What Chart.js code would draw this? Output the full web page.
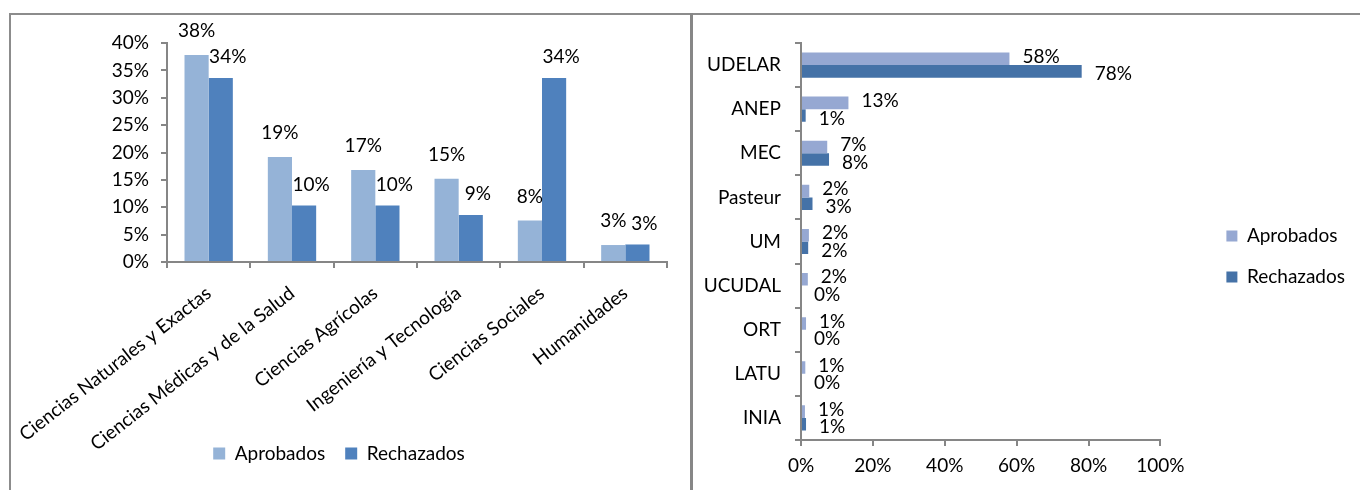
<!DOCTYPE html>
<html>

<head>
    <title>Aprobados y Rechazados</title>
    <meta charset="utf-8">
    <script src="https://cdn.jsdelivr.net/npm/chart.js"></script>
    <style>
        body { margin: 0; background: #fff; width: 1360px; height: 490px; overflow: hidden; position: relative; }
        .frame { position: absolute; left: 9px; top: 13px; width: 1360px; height: 490px; border-top: 2px solid #8c8c8c; border-left: 2px solid #8c8c8c; }
        .sep { position: absolute; left: 690px; top: 13px; width: 3px; height: 477px; background: #878787; }
        #left { position: absolute; left: 11px; top: 15px; }
        #right { position: absolute; left: 694px; top: 15px; }
    </style>
</head>

<body>
    <div class="frame"></div>
    <div class="sep"></div>
    <canvas id="left" width="678" height="475"></canvas>
    <canvas id="right" width="666" height="475"></canvas>

    <script>
        // datos por area
        const areas = ["Ciencias Naturales y Exactas", "Ciencias Médicas y de la Salud", "Ciencias Agrícolas",
            "Ingeniería y Tecnología", "Ciencias Sociales", "Humanidades"];
        const areasAprobados = [37.8, 19.2, 16.8, 15.2, 7.6, 3.1];
        const areasRechazados = [33.6, 10.3, 10.3, 8.6, 33.6, 3.2];
        const areasTicks = [0, 5, 10, 15, 20, 25, 30, 35, 40];

        // datos por institucion
        const instituciones = ["UDELAR", "ANEP", "MEC", "Pasteur", "UM", "UCUDAL", "ORT", "LATU", "INIA"];
        const instAprobados = [58.0, 13.2, 7.3, 2.3, 2.2, 1.9, 1.4, 1.2, 1.1];
        const instRechazados = [78.1, 1.3, 7.8, 3.2, 2.0, 0, 0, 0, 1.4];
        const instTicks = [0, 20, 40, 60, 80, 100];

        const AXIS = "#868686";

        Chart.defaults.font.family = "Lato";
        Chart.defaults.font.size = 19;
        Chart.defaults.color = "#000";

        const barLabels = {
            id: "barLabels",
            afterDatasetsDraw(chart, args, opts) {
                const ctx = chart.ctx;
                ctx.save();
                ctx.font = "19px Lato";
                ctx.fillStyle = "#000";
                ctx.textBaseline = "middle";
                ctx.textAlign = opts.align;
                chart.data.datasets.forEach((ds, i) => {
                    const off = opts.offsets[i];
                    chart.getDatasetMeta(i).data.forEach((bar, j) => {
                        ctx.fillText(Math.round(ds.data[j]) + "%", bar.x + off[0], bar.y + off[1]);
                    });
                });
                ctx.restore();
            }
        };

        const moveLegend = {
            id: "moveLegend",
            afterLayout(chart, args, opts) {
                const lg = chart.legend;
                if (!lg || !opts.dx && !opts.dy) return;
                lg.left += opts.dx || 0;
                lg.right += opts.dx || 0;
                lg.top += opts.dy || 0;
                lg.bottom += opts.dy || 0;
            }
        };

        let leftChart = new Chart(document.getElementById("left"), {
            type: "bar",
            data: {
                labels: areas,
                datasets: [{
                    label: "Aprobados",
                    data: areasAprobados,
                    backgroundColor: "#95b3d7"
                }, {
                    label: "Rechazados",
                    data: areasRechazados,
                    backgroundColor: "#4f81bd"
                }]
            },
            plugins: [barLabels],
            options: {
                responsive: false,
                animation: false,
                categoryPercentage: 0.58,
                barPercentage: 1,
                layout: { padding: { top: 28, right: 22, bottom: 17, left: 0 } },
                plugins: {
                    legend: { position: "bottom", labels: { boxWidth: 12, boxHeight: 12, padding: 20 } },
                    tooltip: { enabled: false },
                    barLabels: { align: "center", offsets: [[0, -24], [7, -21]] }
                },
                scales: {
                    x: {
                        grid: { drawOnChartArea: false, offset: true, tickLength: 6, color: AXIS, lineWidth: 2 },
                        border: { color: AXIS, width: 2 },
                        ticks: { minRotation: 38, maxRotation: 38, padding: 14, autoSkip: false },
                        afterFit(s) {
                            s.height = 162;
                            s.paddingLeft = 0;
                            s.paddingRight = 0;
                            // rotated labels run into the legend band, don't clip them
                            s._computeLabelArea = () => null;
                        }
                    },
                    y: {
                        min: 0,
                        max: 40,
                        afterBuildTicks(s) { s.ticks = areasTicks.map(v => ({ value: v })); },
                        ticks: { padding: 12, callback: v => v + "%" },
                        grid: { drawOnChartArea: false, tickLength: 6, color: AXIS, lineWidth: 2 },
                        border: { color: AXIS, width: 2 },
                        afterFit(s) { s.width = 156; }
                    }
                }
            }
        });

        let rightChart = new Chart(document.getElementById("right"), {
            type: "bar",
            data: {
                labels: instituciones,
                datasets: [{
                    label: "Aprobados",
                    data: instAprobados,
                    backgroundColor: "#96a8d2"
                }, {
                    label: "Rechazados",
                    data: instRechazados,
                    backgroundColor: "#4572a7"
                }]
            },
            plugins: [barLabels, moveLegend],
            options: {
                indexAxis: "y",
                responsive: false,
                animation: false,
                categoryPercentage: 0.57,
                barPercentage: 1,
                layout: { padding: { top: 28, right: 49, bottom: 0, left: 0 } },
                plugins: {
                    legend: { position: "right", labels: { boxWidth: 11, boxHeight: 11, padding: 22 } },
                    tooltip: { enabled: false },
                    barLabels: { align: "left", offsets: [[13, -2], [13, 3]] },
                    moveLegend: { dx: 44, dy: -10 }
                },
                scales: {
                    x: {
                        min: 0,
                        max: 100,
                        afterBuildTicks(s) { s.ticks = instTicks.map(v => ({ value: v })); },
                        ticks: { padding: 8, callback: v => v + "%" },
                        grid: { drawOnChartArea: false, tickLength: 6, color: AXIS, lineWidth: 2 },
                        border: { color: AXIS, width: 2 },
                        afterFit(s) { s.height = 50; s.paddingLeft = 0; s.paddingRight = 0; }
                    },
                    y: {
                        grid: { drawOnChartArea: false, offset: true, tickLength: 6, color: AXIS, lineWidth: 2 },
                        border: { color: AXIS, width: 2 },
                        ticks: { padding: 14, autoSkip: false },
                        afterFit(s) { s.width = 107; }
                    }
                }
            }
        });
    </script>
</body>

</html>
